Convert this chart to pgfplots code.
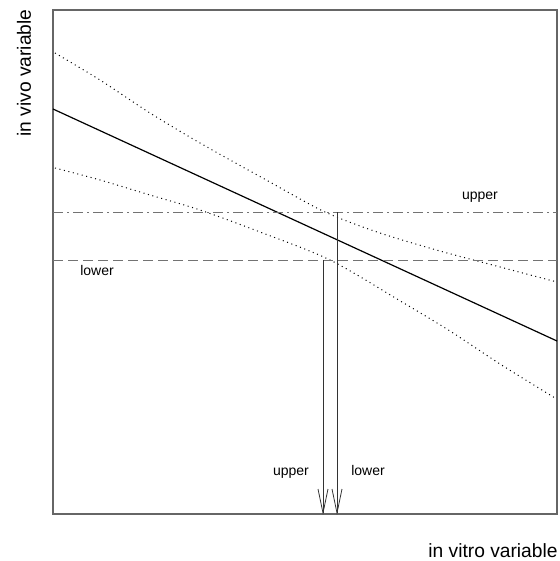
\documentclass[border=0pt]{standalone}
\usepackage{pgfplots}
\pgfplotsset{compat=1.18}
\usepackage{fontspec}
\setmainfont{Liberation Sans}
\begin{document}
\begin{tikzpicture}
\begin{axis}[
  scale only axis,
  width=252pt, height=252pt,
  xmin=53, xmax=557, ymin=10, ymax=514,
  y dir=reverse,
  xtick=\empty, ytick=\empty,
  clip=false,
  axis line style={draw=black!60, line width=0.8pt},
]
% bounding box matching the reference proportions
\path (axis cs:0,0) rectangle (axis cs:560,561);
% fitted line
\addplot[black, line width=0.6pt] coordinates {(53,109) (557,341)};
% upper confidence band
\addplot[black, line width=0.5pt, dash pattern=on 0.5pt off 1.8pt, smooth] coordinates {
(55,53) (100,80) (150,113) (200,143) (268,181) (325,212) (380,233) (440,251) (500,267) (557,282)};
% lower confidence band
\addplot[black, line width=0.5pt, dash pattern=on 0.5pt off 1.8pt, smooth] coordinates {
(55,168) (100,180) (150,195) (200,210) (260,232) (330,260) (402,302) (450,331) (500,364) (555,398)};
% horizontal limits
\addplot[black!55, line width=0.45pt, dash pattern=on 5pt off 2pt on 1pt off 2pt] coordinates {(53,212) (557,212)};
\addplot[black!55, line width=0.45pt, dash pattern=on 5pt off 2.5pt] coordinates {(53,260) (557,260)};
% vertical arrows
\addplot[black!80, line width=0.4pt] coordinates {(323,260) (323,513)};
\addplot[black!80, line width=0.4pt] coordinates {(318,489) (323,513) (328,489)};
\addplot[black!80, line width=0.4pt] coordinates {(337,212) (337,513)};
\addplot[black!80, line width=0.4pt] coordinates {(332,489) (337,513) (342,489)};
% labels
\node[anchor=base, inner sep=0pt, font=\fontsize{7}{8}\selectfont] at (axis cs:480,199) {upper};
\node[anchor=base, inner sep=0pt, font=\fontsize{7}{8}\selectfont] at (axis cs:97,275) {lower};
\node[anchor=base, inner sep=0pt, font=\fontsize{7}{8}\selectfont] at (axis cs:291,475) {upper};
\node[anchor=base, inner sep=0pt, font=\fontsize{7}{8}\selectfont] at (axis cs:368,475) {lower};
\node[rotate=90, inner sep=0pt, font=\fontsize{9.6}{12}\selectfont] at (axis cs:24,73) {in vivo variable};
\node[inner sep=0pt, font=\fontsize{9.6}{12}\selectfont] at (axis cs:493,551) {in vitro variable};
\end{axis}
\end{tikzpicture}
\end{document}
